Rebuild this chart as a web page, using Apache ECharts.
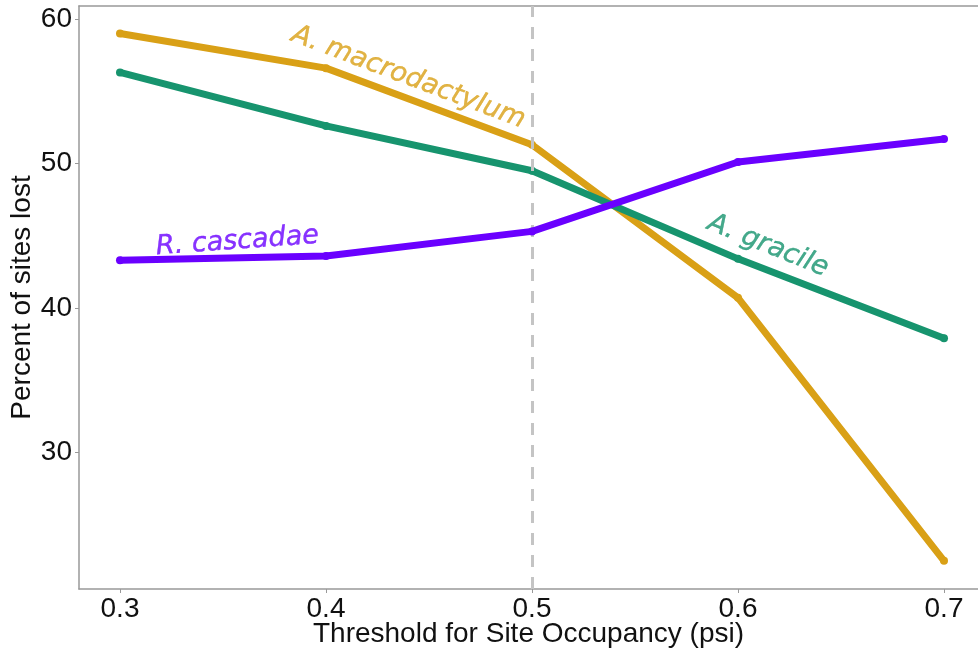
<!DOCTYPE html>
<html><head><meta charset="utf-8">
<script src="https://cdn.jsdelivr.net/npm/echarts@6/dist/echarts.min.js"></script>
<style>html,body{margin:0;padding:0;background:#fff}#c{width:978px;height:655px}</style>
</head><body><div id="c"></div>
<script>
var thresholds = [0.3, 0.4, 0.5, 0.6, 0.7];
var macrodactylum = [59.0, 56.6, 51.3, 40.7, 22.5];
var gracile = [56.3, 52.6, 49.5, 43.4, 37.9];
var cascadae = [43.3, 43.6, 45.3, 50.1, 51.7];
var yTicks = [30, 40, 50, 60];
var xTitle = 'Threshold for Site Occupancy (psi)';
var yTitle = 'Percent of sites lost';
var labels = [
  {name: 'A. macrodactylum', x: 0.44, y: 55.95, rot: -20.7},
  {name: 'A. gracile', x: 0.6145, y: 44.3, rot: -22},
  {name: 'R. cascadae', x: 0.357, y: 44.6, rot: 4}
];
var colors = ['#D9A016', '#17946E', '#6A00FF'];

function pairs(vals){ return thresholds.map(function(t,i){return [t, vals[i]];}); }
function labelSeries(l, color){
  return {
    type: 'scatter', silent: true, symbolSize: 0, z: 10,
    data: [[l.x, l.y]],
    label: {show: true, position: 'inside', formatter: l.name, rotate: l.rot,
      color: color, fontFamily: 'DejaVu Sans', fontStyle: 'italic', fontSize: 27,
      textBorderColor: color, textBorderWidth: 0.4}
  };
}
var chart = echarts.init(document.getElementById('c'), null, {renderer: 'canvas'});
var axisText = {fontFamily: 'Liberation Sans', fontSize: 28, color: '#111'};
var titleText = {fontFamily: 'Liberation Sans', fontSize: 28, color: '#111'};
chart.setOption({
  animation: false,
  grid: {left: 79, right: 0, top: 6, bottom: 66, containLabel: false, outerBoundsMode: 'none'},
  xAxis: [{
    type: 'value', min: 0.2801, max: 0.7165, position: 'bottom',
    axisLine: {show: true, lineStyle: {color: '#999', width: 1.5}},
    axisTick: {show: true, length: 4, lineStyle: {color: '#999'},
      customValues: thresholds},
    axisLabel: Object.assign({margin: 6, customValues: thresholds,
      formatter: function(v){return v.toFixed(1);}}, axisText),
    splitLine: {show: false},
    name: xTitle, nameLocation: 'middle', nameGap: 31, nameMoveOverlap: false,
    nameTextStyle: titleText
  }, {
    type: 'value', min: 0.2801, max: 0.7165, position: 'top',
    axisLine: {show: true, lineStyle: {color: '#999', width: 1.5}},
    axisTick: {show: false}, axisLabel: {show: false}, splitLine: {show: false}
  }],
  yAxis: {
    type: 'value', min: 20.55, max: 60.9,
    axisLine: {show: true, lineStyle: {color: '#999', width: 1.5}},
    axisTick: {show: true, length: 4, lineStyle: {color: '#999'}, customValues: yTicks},
    axisLabel: Object.assign({margin: 7, customValues: yTicks}, axisText),
    splitLine: {show: false},
    name: yTitle, nameLocation: 'middle', nameGap: 43, nameRotate: 90, nameMoveOverlap: false,
    nameTextStyle: titleText
  },
  series: [
    {type: 'line', data: pairs(macrodactylum), color: colors[0], symbol: 'circle', symbolSize: 8,
      lineStyle: {width: 7}, z: 3,
      markLine: {silent: true, symbol: 'none', label: {show: false},
        lineStyle: {color: '#c4c4c4', type: [12, 10], width: 3},
        data: [{xAxis: 0.5}]}},
    {type: 'line', data: pairs(gracile), color: colors[1], symbol: 'circle', symbolSize: 8,
      lineStyle: {width: 7}, z: 4},
    {type: 'line', data: pairs(cascadae), color: colors[2], symbol: 'circle', symbolSize: 8,
      lineStyle: {width: 7}, z: 5},
    labelSeries(labels[0], colors[0]),
    labelSeries(labels[1], colors[1]),
    labelSeries(labels[2], colors[2])
  ]
});
</script></body></html>
